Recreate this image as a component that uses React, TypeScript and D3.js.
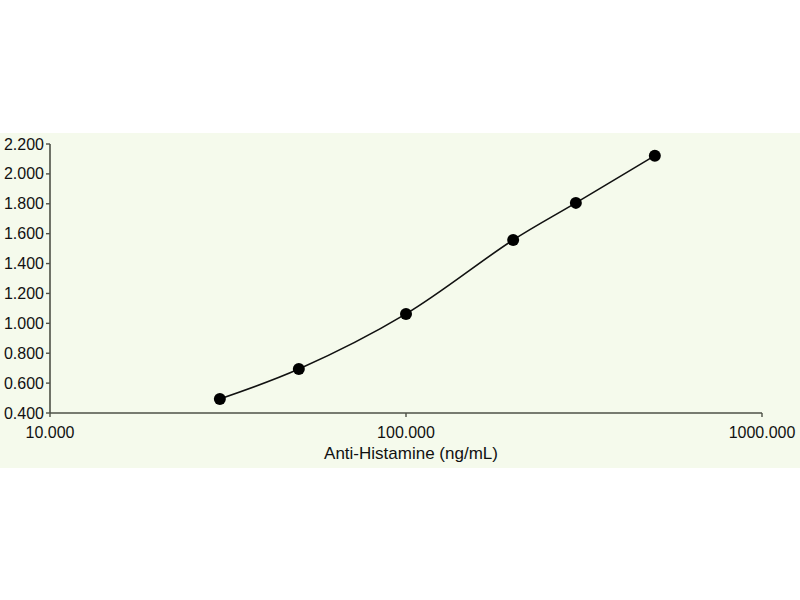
import React from "react";
import * as d3 from "d3";

const concentrations = [30, 50, 100, 200, 300, 500];
const absorbance = [0.494, 0.694, 1.063, 1.558, 1.806, 2.122];
const yTicks = [0.4, 0.6, 0.8, 1.0, 1.2, 1.4, 1.6, 1.8, 2.0, 2.2];
const xTicks = [10, 100, 1000];
const xTitle = "Anti-Histamine (ng/mL)";

export default function App() {
  const W = 800, H = 600;
  const left = 50, right = 762, top = 144, bottom = 413;
  const x = d3.scaleLog().domain([10, 1000]).range([left, right]);
  const y = d3.scaleLinear().domain([0.4, 2.2]).range([bottom, top]);
  const pts: [number, number][] = concentrations.map((c, i) => [x(c), y(absorbance[i])]);
  const line = d3.line().curve(d3.curveCatmullRom.alpha(0.5))(pts) || "";
  const font = "'Liberation Sans', Arial, sans-serif";
  return (
    <svg width={W} height={H} style={{ position: "absolute", left: 0, top: 0 }}>
      <rect x={0} y={0} width={W} height={H} fill="#ffffff" />
      <rect x={0} y={133} width={W} height={335} fill="#f5faec" />
      <path d={line} fill="none" stroke="#111" strokeWidth={1.6} />
      {pts.map((p, i) => (
        <circle key={i} cx={p[0]} cy={p[1]} r={6} fill="#000" />
      ))}
      <line x1={left} x2={left} y1={top} y2={bottom} stroke="#4d5047" strokeWidth={1.6} />
      <line x1={left} x2={right} y1={bottom} y2={bottom} stroke="#4d5047" strokeWidth={1.6} />
      {yTicks.map((t) => (
        <g key={t}>
          <line x1={left - 4} x2={left} y1={y(t)} y2={y(t)} stroke="#4d5047" strokeWidth={1.4} />
          <text x={left - 6} y={y(t)} dy="0.35em" textAnchor="end" fontFamily={font} fontSize={16} fill="#111">
            {t.toFixed(3)}
          </text>
        </g>
      ))}
      {xTicks.map((t) => (
        <g key={t}>
          <line x1={x(t)} x2={x(t)} y1={bottom} y2={bottom + 4} stroke="#4d5047" strokeWidth={1.4} />
          <text x={x(t)} y={438} textAnchor="middle" fontFamily={font} fontSize={16} fill="#111">
            {t.toFixed(3)}
          </text>
        </g>
      ))}
      <text x={411} y={459} textAnchor="middle" fontFamily={font} fontSize={17} fill="#111">
        {xTitle}
      </text>
    </svg>
  );
}
